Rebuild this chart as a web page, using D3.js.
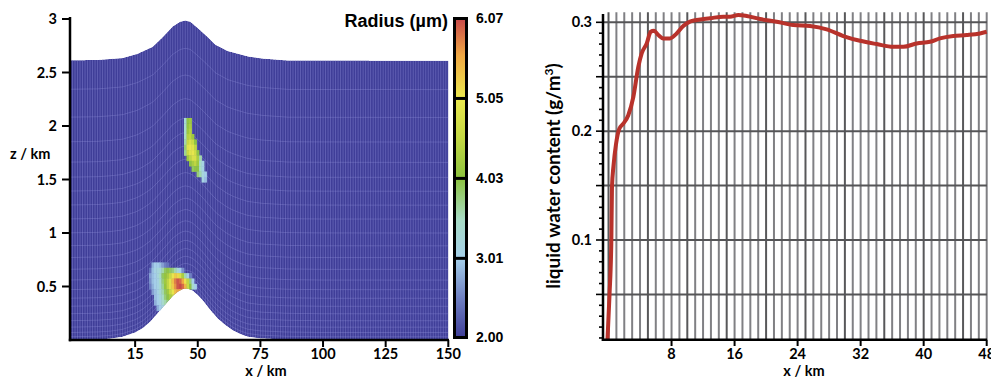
<!DOCTYPE html>
<html lang="en">
<head>
  <meta charset="UTF-8">
  <title>Droplet radius over a hill and liquid water content</title>
  <script src="https://d3js.org/d3.v7.min.js"></script>
  <style>
    body
    {
      margin: 0;
      background-color: #fff;
    }

    svg
    {
      display: block;
      font-family: Lato, "Open Sans", sans-serif;
      font-weight: 700;
    }
  </style>
</head>
<body>
  <svg width="991" height="378"></svg>
  <script>
    // left panel: ground and model top (km)
    const terrainX = [-1, 10, 15, 20, 25, 28, 31, 34, 37, 40, 42, 44, 45, 46, 48, 50, 52, 55, 58, 61, 64, 67, 70, 75, 85, 100, 150];
    const terrainZ = [0, 0.005, 0.012, 0.03, 0.07, 0.11, 0.17, 0.25, 0.33, 0.41, 0.45, 0.475, 0.48, 0.478, 0.46, 0.42, 0.37, 0.28, 0.2, 0.14, 0.09, 0.055, 0.03, 0.015, 0.005, 0, 0];
    const topX = [-1, 10, 20, 26, 32, 36, 40, 43, 45, 47, 50, 54, 57, 62, 70, 76, 86, 150];
    const topZ = [2.614, 2.617, 2.635, 2.675, 2.74, 2.83, 2.93, 2.975, 2.985, 2.975, 2.915, 2.83, 2.76, 2.7, 2.65, 2.63, 2.612, 2.61];

    // model levels over flat ground (km)
    const levelZ = [0, 0.03, 0.07, 0.12, 0.18, 0.245, 0.315, 0.39, 0.47, 0.56, 0.66, 0.77, 0.88, 1.0, 1.13, 1.26, 1.39, 1.52, 1.66, 1.85, 2.08, 2.34, 2.61];

    // droplet radius (um) in the cloudy cells: [row height km, first column km, radii...]
    const cloudLow = [
      [0.70, 32, [2.8, 3.0, 3.0, 2.9, 2.7, 2.5, 2.4]],
      [0.65, 31, [2.4, 2.9, 3.1, 3.2, 3.3, 3.6, 3.9, 4.0, 3.9, 3.8, 3.6, 3.3, 3.0, 2.6]],
      [0.60, 31, [2.7, 2.9, 3.0, 3.2, 3.5, 3.9, 4.1, 4.3, 4.6, 5.0, 5.3, 5.2, 4.8, 4.3, 3.6, 3.0, 2.5]],
      [0.55, 31, [2.6, 2.9, 3.0, 3.1, 3.4, 3.8, 4.2, 4.5, 4.9, 5.4, 5.8, 6.0, 5.9, 5.6, 5.1, 4.5, 3.8, 3.0]],
      [0.50, 31, [2.5, 2.8, 3.0, 3.1, 3.3, 3.7, 4.1, 4.5, 4.9, 5.3, 5.7, 6.0, 6.07, 5.9, 5.5, 4.6, 4.0, 3.4, 3.0]],
      [0.45, 32, [2.7, 2.9, 3.1, 3.3, 3.6, 3.9, 4.2, 4.6, 5.0, 5.4, 5.6, 5.5]],
      [0.40, 33, [2.9, 3.0, 3.2, 3.5, 3.8, 4.0, 4.3, 4.5]],
      [0.35, 33, [2.8, 3.0, 3.1, 3.4, 3.6, 3.8]],
      [0.30, 34, [2.8, 3.0, 3.2]]
    ];
    const cloudHigh = [
      [2.05, 45, [3.3, 4.0, 4.2]],
      [2.00, 45, [3.4, 4.1, 4.3]],
      [1.95, 45, [3.4, 4.2, 4.4]],
      [1.90, 45, [3.5, 4.4, 4.5, 4.2]],
      [1.85, 45, [3.6, 4.6, 4.8, 4.6, 4.0]],
      [1.80, 45, [3.8, 4.9, 5.0, 4.9, 4.5]],
      [1.75, 45, [3.7, 4.6, 4.9, 5.0, 4.7, 4.0]],
      [1.70, 46, [4.2, 4.5, 4.8, 4.8, 4.3, 3.6]],
      [1.65, 47, [4.0, 4.3, 4.5, 4.2, 3.5, 3.1]],
      [1.60, 48, [3.9, 4.0, 4.0, 3.5, 3.1]],
      [1.55, 50, [3.8, 3.6, 3.2, 3.0]],
      [1.50, 52, [3.1, 2.9]]
    ];

    const xTicksLeft = [25, 50, 75, 100, 125, 150];
    const xTickLabelsLeft = ["15", "50", "75", "100", "125", "150"];
    const zTicks = [0.5, 1, 1.5, 2, 2.5, 3];

    const barTicks = [2.00, 3.01, 4.03, 5.05, 6.07];
    const barStops = [2.0, 2.5, 3.01, 3.5, 4.03, 4.55, 5.05, 5.6, 6.07];
    const barColors = ["#3f3e98", "#6f80c2", "#a6d0ea", "#a8dcc6", "#8cc23e", "#c4d843", "#ebe84e", "#f0a844", "#c8484a"];

    // right panel: liquid water content (g/m3) against x (km)
    const lwcX = [-0.13, 0.13, 0.36, 0.44, 0.63, 0.95, 1.37, 1.88, 2.51, 3.15, 3.78, 4.21, 4.85, 5.36, 5.77, 6.32, 6.95, 7.8, 8.65, 9.49, 10.34, 11.19, 12.88, 14.57, 15.42, 16.47, 17.54, 19.23, 21.35, 23.45, 25.57, 27.69, 29.8, 31.92, 34.04, 36.14, 37.41, 39.11, 40.8, 42.07, 43.76, 45.46, 47.14, 48];
    const lwcY = [0.0084, 0.05, 0.1, 0.1485, 0.168, 0.188, 0.2023, 0.2069, 0.2146, 0.2314, 0.259, 0.2714, 0.2806, 0.2913, 0.2923, 0.2883, 0.2852, 0.2852, 0.2898, 0.2966, 0.3006, 0.3021, 0.3037, 0.3052, 0.3052, 0.3067, 0.3058, 0.303, 0.3006, 0.2975, 0.2966, 0.2935, 0.2874, 0.283, 0.28, 0.2775, 0.2775, 0.2806, 0.2821, 0.2852, 0.2874, 0.2883, 0.2898, 0.2913];
    const lwcXTicks = [8, 16, 24, 32, 40, 48];
    const lwcYTicks = [0.1, 0.2, 0.3];

    const svg = d3.select("svg");
    const defs = svg.append("defs");

    //---------------- left panel ----------------
    const xL = d3.scaleLinear().domain([-1, 150]).range([70, 448.3]);
    const zL = d3.scaleLinear().domain([0, 3]).range([340, 19]);
    const hAt = d3.scaleLinear().domain(terrainX).range(terrainZ).clamp(true);
    const tAt = d3.scaleLinear().domain(topX).range(topZ).clamp(true);
    const color = d3.scaleLinear().domain(barStops).range(barColors).clamp(true);

    const xs = d3.range(-1, 150.001, 0.25);
    const outline = xs.map(x => [x, tAt(x)])
      .concat(xs.slice().reverse().map(x => [x, hAt(x)]));
    const outlinePath = d3.line().x(d => xL(d[0])).y(d => zL(d[1]))(outline) + "Z";

    defs.append("clipPath").attr("id", "meshClip")
      .append("path").attr("d", outlinePath);

    const mesh = svg.append("g").attr("clip-path", "url(#meshClip)");
    mesh.append("path").attr("d", outlinePath).attr("fill", color(2.0));

    // columns
    mesh.selectAll("line.col")
      .data(d3.range(-1, 150.5, 1))
      .join("line")
      .attr("class", "col")
      .attr("x1", d => xL(d)).attr("x2", d => xL(d))
      .attr("y1", d => zL(hAt(d))).attr("y2", d => zL(tAt(d)))
      .attr("stroke", "#7c7cc8")
      .attr("stroke-width", 0.9)
      .attr("opacity", 0.6);

    // terrain following levels
    const Ltop = levelZ[levelZ.length - 1];
    const levelLine = L => d3.line()
      .x(x => xL(x))
      .y(x => zL(hAt(x) + L / Ltop * (tAt(x) - hAt(x))))(xs);

    mesh.selectAll("path.level")
      .data(levelZ.slice(1, -1))
      .join("path")
      .attr("class", "level")
      .attr("d", levelLine)
      .attr("fill", "none")
      .attr("stroke", "#9494dc")
      .attr("stroke-width", 0.8)
      .attr("opacity", 0.45);

    // cloudy cells
    const cells = [];
    [cloudLow, cloudHigh].forEach(rows => rows.forEach(([z, x0, vals]) => {
      vals.forEach((v, i) => cells.push({ x: x0 + i, z: z, r: v }));
    }));

    mesh.selectAll("rect.cell")
      .data(cells)
      .join("rect")
      .attr("class", "cell")
      .attr("x", d => xL(d.x - 0.5))
      .attr("y", d => zL(d.z + 0.025))
      .attr("width", d => xL(d.x + 0.5) - xL(d.x - 0.5) + 0.4)
      .attr("height", d => zL(d.z - 0.025) - zL(d.z + 0.025) + 0.4)
      .attr("fill", d => color(d.r));

    // axes
    const axL = svg.append("g").attr("stroke", "#000").attr("fill", "none");
    axL.append("line").attr("x1", 70).attr("x2", 70).attr("y1", 17).attr("y2", 341.2).attr("stroke-width", 2.5);
    axL.append("line").attr("x1", 68.8).attr("x2", 449).attr("y1", 340).attr("y2", 340).attr("stroke-width", 2.5);
    axL.selectAll("line.zt").data(zTicks).join("line").attr("class", "zt")
      .attr("x1", 62).attr("x2", 70).attr("y1", d => zL(d)).attr("y2", d => zL(d)).attr("stroke-width", 2);
    axL.selectAll("line.xt").data(xTicksLeft).join("line").attr("class", "xt")
      .attr("x1", d => xL(d)).attr("x2", d => xL(d)).attr("y1", 340).attr("y2", 347).attr("stroke-width", 2);

    svg.selectAll("text.zl").data(zTicks).join("text").attr("class", "zl")
      .attr("x", 57).attr("y", d => zL(d)).attr("dy", "0.35em")
      .attr("text-anchor", "end").attr("font-size", 14.5)
      .text(d => d);
    svg.selectAll("text.xl").data(xTicksLeft).join("text").attr("class", "xl")
      .attr("x", d => xL(d)).attr("y", 359)
      .attr("text-anchor", "middle").attr("font-size", 14.5)
      .text((d, i) => xTickLabelsLeft[i]);
    svg.append("text").attr("x", 266).attr("y", 376).attr("text-anchor", "middle")
      .attr("font-size", 14.5).text("x / km");
    svg.append("text").attr("x", 10).attr("y", 159)
      .attr("font-size", 14.5).text("z / km");

    // colour bar
    const cb = d3.scaleLinear().domain([2.0, 6.07]).range([337.5, 18.5]);
    const grad = defs.append("linearGradient").attr("id", "radGrad")
      .attr("x1", 0).attr("x2", 0).attr("y1", 1).attr("y2", 0);
    grad.selectAll("stop").data(barStops).join("stop")
      .attr("offset", d => (d - 2.0) / (6.07 - 2.0))
      .attr("stop-color", d => color(d));
    svg.append("rect").attr("x", 454.5).attr("y", cb(6.07)).attr("width", 12)
      .attr("height", cb(2.0) - cb(6.07))
      .attr("fill", "url(#radGrad)").attr("stroke", "#000").attr("stroke-width", 3);
    svg.selectAll("line.sep").data(barTicks.slice(1, -1)).join("line").attr("class", "sep")
      .attr("x1", 453).attr("x2", 468).attr("y1", d => cb(d)).attr("y2", d => cb(d))
      .attr("stroke", "#000").attr("stroke-width", 3);
    svg.selectAll("text.cbl").data(barTicks).join("text").attr("class", "cbl")
      .attr("x", 476).attr("y", d => cb(d)).attr("dy", "0.35em")
      .attr("font-family", "'Liberation Sans', Arial, sans-serif")
      .attr("font-size", 14).text(d => d.toFixed(2));
    svg.append("text").attr("x", 448).attr("y", 27).attr("text-anchor", "end")
      .attr("font-family", "'Liberation Sans', Arial, sans-serif")
      .attr("font-size", 18).text("Radius (\u00b5m)");

    //---------------- right panel ----------------
    const xR = d3.scaleLinear().domain([-0.7, 48]).range([603, 986.7]);
    const yR = d3.scaleLinear().domain([0.0084, 0.3092]).range([339.7, 12.3]);

    const grid = svg.append("g");
    grid.selectAll("line.vg").data(d3.range(0, 49)).join("line").attr("class", "vg")
      .attr("x1", d => xR(d)).attr("x2", d => xR(d))
      .attr("y1", yR.range()[1]).attr("y2", yR.range()[0])
      .attr("stroke", d => d % 5 === 0 ? "#58585a" : "#808084")
      .attr("stroke-width", 2);
    grid.selectAll("line.hg").data(d3.range(0.05, 0.31, 0.05)).join("line").attr("class", "hg")
      .attr("x1", 603).attr("x2", 987)
      .attr("y1", d => yR(d)).attr("y2", d => yR(d))
      .attr("stroke", "#555557").attr("stroke-width", 2);

    defs.append("clipPath").attr("id", "lwcClip")
      .append("rect").attr("x", 603).attr("y", 5).attr("width", 390).attr("height", 335);

    svg.append("path")
      .datum(lwcX.map((x, i) => [x, lwcY[i]]))
      .attr("clip-path", "url(#lwcClip)")
      .attr("fill", "none")
      .attr("stroke", "#b8322b")
      .attr("stroke-width", 4)
      .attr("stroke-linejoin", "round")
      .attr("d", d3.line().curve(d3.curveMonotoneX).x(d => xR(d[0])).y(d => yR(d[1])));

    const axR = svg.append("g").attr("stroke", "#000").attr("fill", "none");
    axR.append("line").attr("x1", 603).attr("x2", 603).attr("y1", 14).attr("y2", 341).attr("stroke-width", 2.5);
    axR.append("line").attr("x1", 601.8).attr("x2", 987).attr("y1", 339.7).attr("y2", 339.7).attr("stroke-width", 2.5);
    axR.selectAll("line.yt").data(d3.range(1, 31).map(d => d / 100)).join("line").attr("class", "yt")
      .attr("x1", d => Math.round(d * 100) % 5 === 0 ? 596 : 599).attr("x2", 603)
      .attr("y1", d => yR(d)).attr("y2", d => yR(d)).attr("stroke-width", 1.6);
    axR.selectAll("line.xt").data(lwcXTicks).join("line").attr("class", "xt")
      .attr("x1", d => xR(d)).attr("x2", d => xR(d)).attr("y1", 339.7).attr("y2", 346).attr("stroke-width", 2);

    svg.selectAll("text.yl").data(lwcYTicks).join("text").attr("class", "yl")
      .attr("x", 592).attr("y", d => yR(d)).attr("dy", "0.35em")
      .attr("text-anchor", "end").attr("font-size", 14.5).text(d => d);
    svg.selectAll("text.xr").data(lwcXTicks).join("text").attr("class", "xr")
      .attr("x", d => xR(d)).attr("y", 359)
      .attr("text-anchor", "middle").attr("font-size", 14.5).text(d => d);
    svg.append("text").attr("x", 804).attr("y", 376).attr("text-anchor", "middle")
      .attr("font-size", 14.5).text("x / km");

    const yTitle = svg.append("text")
      .attr("transform", "translate(560,176) rotate(-90)")
      .attr("text-anchor", "middle").attr("font-size", 19);
    yTitle.append("tspan").text("liquid water content (g/m");
    yTitle.append("tspan").attr("dy", -7).attr("font-size", 12).text("3");
    yTitle.append("tspan").attr("dy", 7).text(")");
  </script>
</body>
</html>
